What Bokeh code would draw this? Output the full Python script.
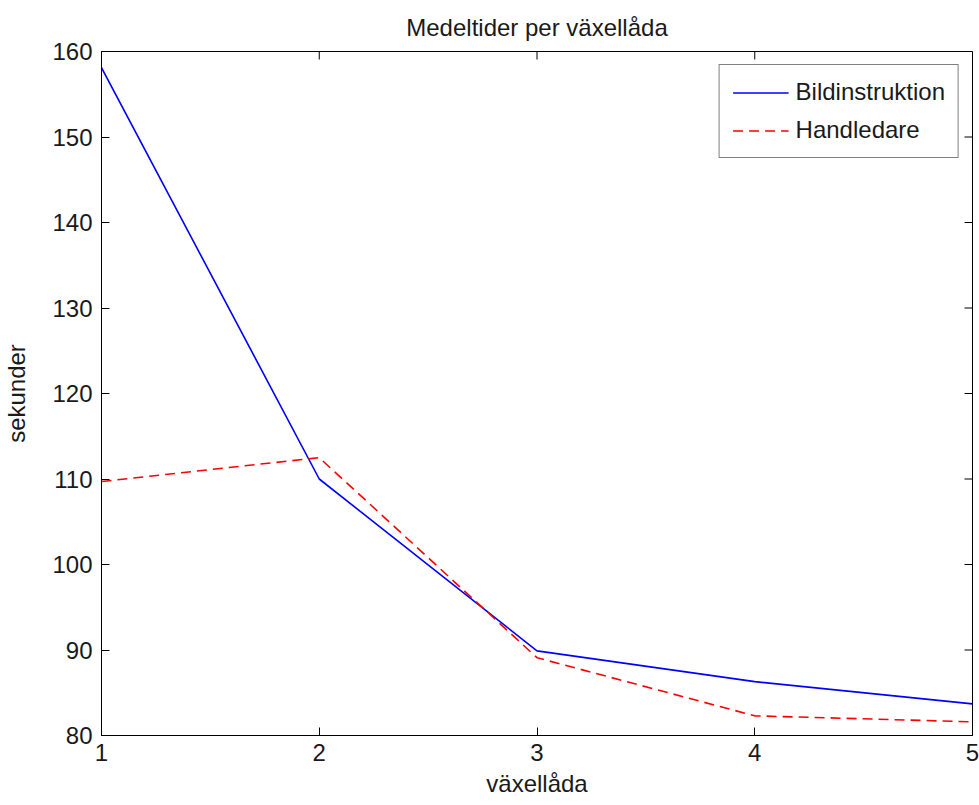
import math
from bokeh.plotting import figure
from bokeh.models import FixedTicker, Legend, LegendItem
from bokeh.embed import file_html
from bokeh.resources import INLINE

# Mean times per gearbox for the two instruction methods
gearbox = [1, 2, 3, 4, 5]
bildinstruktion = [158.1, 110.0, 89.9, 86.3, 83.7]
handledare = [109.7, 112.5, 89.1, 82.3, 81.6]

x_ticks = [1, 2, 3, 4, 5]
y_ticks = [80, 90, 100, 110, 120, 130, 140, 150, 160]
x_min, x_max = 1, 5
y_min, y_max = 80, 160

FONT = "Liberation Sans, Arial, sans-serif"
FS = "24px"
TEXT = "#1a1a1a"

p = figure(width=979, height=805, output_backend="svg", toolbar_location=None,
           x_range=(x_min, x_max), y_range=(y_min, y_max),
           min_border_left=101, min_border_right=7, min_border_top=51, min_border_bottom=70,
           background_fill_color="white", border_fill_color="white",
           title="Medeltider per växellåda")

p.title.text_font = FONT
p.title.text_font_size = FS
p.title.text_font_style = "normal"
p.title.align = "center"
p.title.text_color = TEXT
p.title.standoff = 22

p.xgrid.visible = False
p.ygrid.visible = False
p.outline_line_color = "black"
p.outline_line_width = 1

for ax, ticks in ((p.xaxis[0], x_ticks), (p.yaxis[0], y_ticks)):
    ax.ticker = FixedTicker(ticks=ticks)
    ax.major_tick_in = 8
    ax.major_tick_out = 0
    ax.minor_tick_line_color = None
    ax.axis_line_color = "black"
    ax.major_tick_line_color = "black"
    ax.major_label_text_font = FONT
    ax.major_label_text_font_size = FS
    ax.major_label_text_color = TEXT
    ax.axis_label_text_font = FONT
    ax.axis_label_text_font_size = FS
    ax.axis_label_text_font_style = "normal"
    ax.axis_label_text_color = TEXT

p.xaxis[0].axis_label = "växellåda"
p.xaxis[0].major_label_standoff = 8
p.xaxis[0].axis_label_standoff = 6

p.yaxis[0].axis_label = "sekunder"
p.yaxis[0].major_label_standoff = 9
p.yaxis[0].axis_label_standoff = 19

# Inward tick marks mirrored on the top and right edges of the box
p.ray(x=x_ticks, y=[y_max] * len(x_ticks), length=8, length_units="screen",
      angle=-math.pi / 2, line_color="black", line_width=1)
p.ray(x=[x_max] * len(y_ticks), y=y_ticks, length=8, length_units="screen",
      angle=math.pi, line_color="black", line_width=1)

r1 = p.line(gearbox, bildinstruktion, line_color="#0000ff", line_width=1.6)
r2 = p.line(gearbox, handledare, line_color="#ff0000", line_width=1.6, line_dash="10 6")

legend = Legend(items=[LegendItem(label="Bildinstruktion", renderers=[r1]),
                       LegendItem(label="Handledare", renderers=[r2])],
                location="top_right")
legend.label_text_font = FONT
legend.label_text_font_size = FS
legend.label_text_color = TEXT
legend.glyph_width = 56
legend.glyph_height = 25
legend.label_standoff = 7
legend.spacing = 10
legend.padding = 13
legend.margin = 13
legend.border_line_color = "black"
legend.border_line_width = 1
legend.background_fill_alpha = 1
p.add_layout(legend, "center")

open("out.html", "w").write(file_html(p, INLINE))
